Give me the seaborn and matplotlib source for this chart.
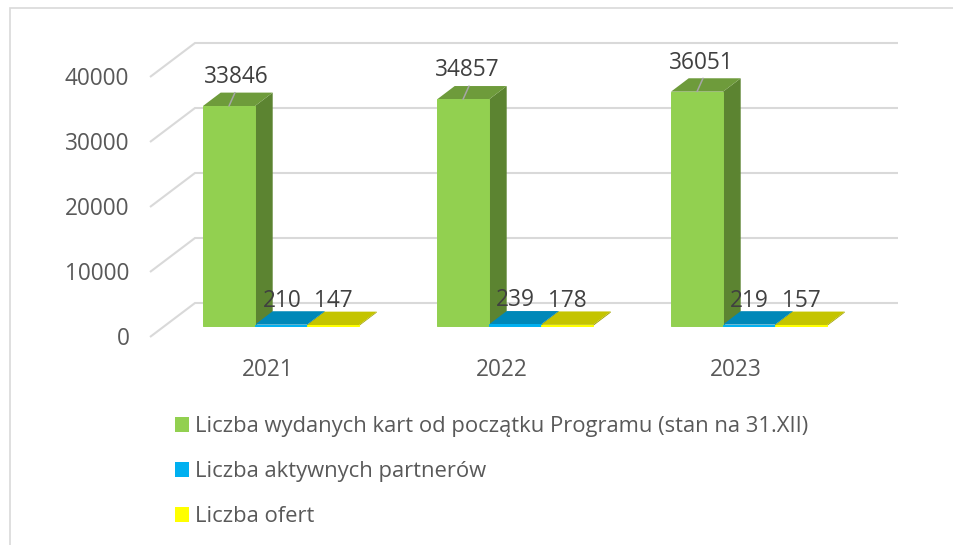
import matplotlib
matplotlib.use("Agg")
import matplotlib.pyplot as plt
import pandas as pd
import seaborn as sns
from matplotlib.lines import Line2D
from matplotlib.patches import Polygon
from matplotlib.transforms import Affine2D

years = ["2021", "2022", "2023"]
series_names = [
    "Liczba wydanych kart od początku Programu (stan na 31.XII)",
    "Liczba aktywnych partnerów",
    "Liczba ofert",
]
cards = [33846, 34857, 36051]
partners = [210, 239, 219]
offers = [147, 178, 157]
y_ticks = [0, 10000, 20000, 30000, 40000]

front_colors = ["#92D050", "#00B0F0", "#FFFF00"]
top_colors = ["#6E9B3B", "#0088B8", "#C4C400"]
side_colors = ["#5C8431", "#006F98", "#A0A000"]
grid_color = "#D9D9D9"
label_color = "#404040"
axis_text = "#595959"

W, H = 954, 545
sns.set_theme(style="white")
plt.rcParams["font.family"] = ["Open Sans", "DejaVu Sans"]

df = pd.DataFrame({
    "Rok": years * 3,
    "Seria": [n for n in series_names for _ in years],
    "Wartość": cards + partners + offers,
})

fig = plt.figure(figsize=(W / 100, H / 100), dpi=100, facecolor="white")
ax = fig.add_axes([164 / W, (H - 326) / H, 702 / W, 260 / H])
ax.patch.set_alpha(0)

sns.barplot(data=df, x="Rok", y="Wartość", hue="Seria", hue_order=series_names,
            palette=front_colors, saturation=1, width=2 / 3, gap=0, dodge=True,
            linewidth=0, ax=ax, zorder=5)
ax.set_xlim(-0.5, 2.5)
ax.set_ylim(0, 40000)
ax.set_xlabel("")
ax.set_ylabel("")
for s in ax.spines.values():
    s.set_visible(False)

# pixel sizes expressed in data units
px = 1 / 234
py = 10000 / 65

# Pseudo-3D walls: diagonal + back gridline
for v in y_ticks:
    ax.plot([-0.5 - 14 * px, -0.5 + 31 * px, 2.5 + 32 * px],
            [v - 11 * py, v + 23 * py, v + 23 * py],
            color=grid_color, lw=1.5, clip_on=False, zorder=1,
            solid_capstyle="butt", solid_joinstyle="miter")

# Pseudo-3D bar faces
dx, dy = 17.7 * px, 13.4 * py
for i, cont in enumerate(ax.containers):
    for bar in cont:
        x0, w, h = bar.get_x(), bar.get_width(), bar.get_height()
        x1 = x0 + w
        side = [(x1, 0), (x1 + dx, dy), (x1 + dx, h + dy), (x1, h)]
        top = [(x0, h), (x0 + dx, h + dy), (x1 + dx, h + dy), (x1, h)]
        ax.add_patch(Polygon(side, closed=True, fc=side_colors[i], ec="none",
                             clip_on=False, zorder=2 + i))
        ax.add_patch(Polygon(top, closed=True, fc=top_colors[i], ec="none",
                             clip_on=False, zorder=2.5 + i))
        bar.set_clip_on(False)
        bar.set_edgecolor(front_colors[i])
        bar.set_linewidth(0.7)

# Data labels
label_dx = [[7, 4, 4.5], [1, 0, 0], [0, 0, 0]]
label_dy = [32, 27, 27]
for i, cont in enumerate(ax.containers):
    for j, bar in enumerate(cont):
        xc = bar.get_x() + bar.get_width() / 2
        h = bar.get_height()
        ax.annotate(f"{int(h)}", (xc, h),
                    xytext=(label_dx[i][j] * 0.72, label_dy[i] * 0.72),
                    textcoords="offset points", ha="center", va="center_baseline",
                    fontsize=16.3, color=label_color, annotation_clip=False, zorder=9)
        if i == 0:
            ax.plot([xc, xc + 6 * px], [h, h + dy], color="#A6A6A6", lw=1.1,
                    clip_on=False, zorder=8)

# Axis ticks and labels
ax.set_yticks(y_ticks)
ax.tick_params(axis="y", length=0, pad=25, labelsize=16.3, labelcolor=axis_text)
ax.tick_params(axis="x", length=0, pad=23, labelsize=16.3, labelcolor=axis_text)
ax.grid(False)
for lab in ax.get_yticklabels():
    lab.set_transform(lab.get_transform() + Affine2D().translate(0, -10))
for lab in ax.get_xticklabels():
    lab.set_transform(lab.get_transform() + Affine2D().translate(-13, 0))

# Legend
ax.legend(loc="upper left", bbox_to_anchor=(175 / W, (H - 416) / H),
          bbox_transform=fig.transFigure, frameon=False, fontsize=15.85,
          handlelength=0.636, handleheight=0.636, handletextpad=0.28,
          labelspacing=1.1, borderpad=0, borderaxespad=0, labelcolor=axis_text)

# Outer frame
fig.add_artist(Line2D([10 / W, 10 / W, 1], [0, (H - 8) / H, (H - 8) / H],
                      color=grid_color, lw=1.2, transform=fig.transFigure,
                      solid_joinstyle="miter"))

fig.savefig("out.png", dpi=100)
